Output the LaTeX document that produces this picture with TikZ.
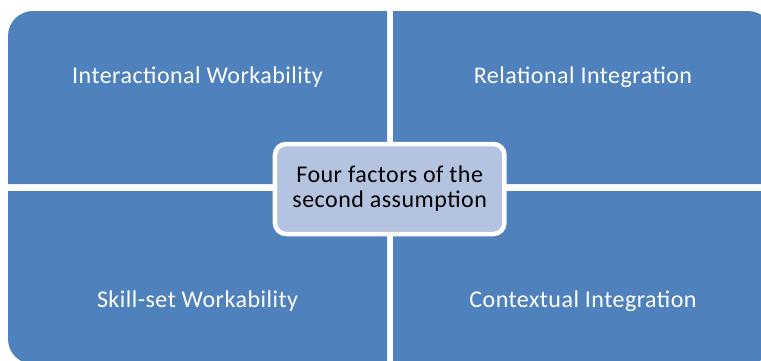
\documentclass[tikz,border=0pt]{standalone}
\usepackage{fontspec}
\setmainfont{Carlito}[LetterSpace=2]
\definecolor{panelblue}{HTML}{4F81BD}
\definecolor{centerfill}{HTML}{B4C3DF}
\tikzset{
  panel/.style={fill=panelblue},
  paneltext/.style={text=white, font=\fontsize{24}{25}\selectfont, anchor=base, inner sep=0pt},
  centerbox/.style={fill=centerfill, draw=white, line width=4.5pt, rounded corners=11pt,
    minimum width=229.5pt, minimum height=90pt, inner sep=0pt, align=center,
    font=\fontsize{24}{25}\selectfont, text=black}
}
\begin{document}
\begin{tikzpicture}[x=1pt,y=-1pt]
\useasboundingbox (0,0) rectangle (761,360);
\clip (0,0) rectangle (761,360);
% panels
\fill[panel] (387,184) -- (8,184) -- (8,36) arc[start angle=180,end angle=270,radius=25] -- (387,11) -- cycle;
\fill[panel] (393,184) -- (393,11) -- (748,11) arc[start angle=270,end angle=360,radius=25] -- (773,184) -- cycle;
\fill[panel] (387,191) -- (8,191) -- (8,339) arc[start angle=180,end angle=90,radius=25] -- (387,364) -- cycle;
\fill[panel] (393,191) -- (773,191) -- (773,339) arc[start angle=0,end angle=90,radius=25] -- (393,364) -- cycle;
% labels
\node[paneltext] (tl) at (197.5,83) {Interactional Workability};
\node[paneltext] (tr) at (583,83) {Relational Integration};
\node[paneltext] (bl) at (197.5,307.5) {Skill-set Workability};
\node[paneltext] (br) at (583,307.5) {Contextual Integration};
% centre
\node[centerbox] (center) at (389.7,189) {Four factors of the\\second assumption};
\end{tikzpicture}
\end{document}
